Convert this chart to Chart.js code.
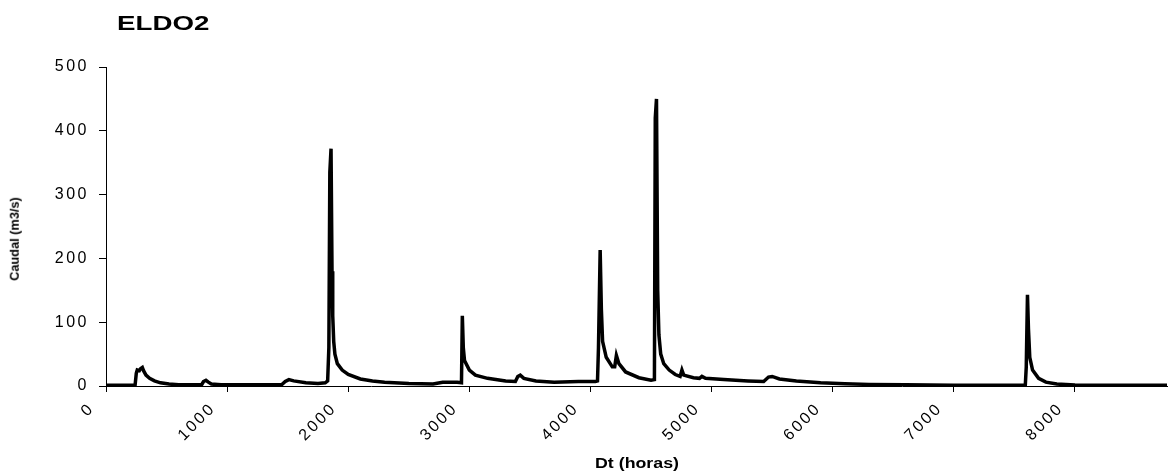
<!DOCTYPE html>
<html>
<head>
<meta charset="utf-8">
<script src="https://cdn.jsdelivr.net/npm/chart.js@4"></script>
<style>
  body { margin: 0; background: #fff; }
  #wrap { position: relative; width: 1171px; height: 473px; }
  #wrap canvas { position: absolute; left: 0; top: 0; }
  .lbl { position: absolute; font-family: "Liberation Sans", Arial, sans-serif; font-weight: bold; color: #000; white-space: nowrap; line-height: 1; }
  #title { left: 117px; top: 14px; font-size: 19.5px; transform: scaleX(1.42); transform-origin: 0 50%; }
  #ytitle { left: 15px; top: 239px; font-size: 12.5px; transform: translate(-50%, -50%) rotate(-90deg) scaleX(1.02); }
  #xtitle { left: 637px; top: 463px; font-size: 14px; transform: translate(-50%, -50%) scaleX(1.27); }
</style>
</head>
<body>
<div id="wrap">
  <canvas id="flowChart" width="1171" height="473"></canvas>
  <div class="lbl" id="title">ELDO2</div>
  <div class="lbl" id="ytitle">Caudal (m3/s)</div>
  <div class="lbl" id="xtitle">Dt (horas)</div>
</div>
<script>
// hydrograph: hour -> discharge (m3/s)
const hours = [0, 240, 250, 258, 275, 285, 300, 310, 330, 360, 400, 450, 520, 600,
  790, 805, 825, 845, 870, 950, 1450, 1480, 1510, 1550, 1650, 1750, 1810, 1830,
  1840, 1848, 1858, 1866, 1872, 1880, 1890, 1910, 1950, 2000, 2100, 2200, 2300,
  2500, 2700, 2780, 2900, 2935, 2942, 2950, 2960, 3000, 3050, 3150, 3300, 3380,
  3400, 3420, 3450, 3550, 3700, 3900, 4040, 4058, 4066, 4080, 4090, 4100, 4130,
  4180, 4200, 4214, 4235, 4290, 4400, 4500, 4528, 4535, 4545, 4555, 4565, 4580,
  4605, 4650, 4700, 4740, 4755, 4770, 4850, 4900, 4920, 4950, 5100, 5300, 5430,
  5470, 5500, 5560, 5700, 5900, 6100, 6300, 6600, 7000, 7590, 7598, 7608, 7616,
  7627, 7650, 7700, 7760, 7850, 8000, 8760];
const flow = [1, 1, 20, 25, 24, 27, 29, 24, 17, 12, 8, 5, 3, 2,
  2, 7, 9, 6, 3, 2, 2, 7, 10, 8, 5, 4, 5, 8,
  60, 335, 372, 180, 110, 70, 50, 35, 25, 18, 11, 8, 6,
  4, 3, 6, 6, 5, 110, 60, 40, 25, 17, 12, 8, 7,
  15, 17, 12, 8, 6, 7, 7, 8, 60, 213, 120, 70, 45,
  30, 30, 48, 35, 22, 13, 9, 10, 420, 450, 150, 80, 50,
  35, 25, 18, 15, 25, 17, 13, 12, 15, 12, 10, 8, 7,
  14, 15, 11, 8, 5, 3.5, 2.5, 1.8, 1.2, 1, 30, 143, 90,
  45, 25, 12, 6, 3, 1.5, 1];

const xTicks = [0, 1000, 2000, 3000, 4000, 5000, 6000, 7000, 8000];
const yTicks = [0, 100, 200, 300, 400, 500];
const xMax = 8760;

const points = hours.map((h, i) => ({ x: h, y: flow[i] }));

// widen the canvas text a bit, like the original rendering
const wideText = {
  id: 'wideText',
  beforeUpdate(chart) { chart.ctx.letterSpacing = '2.5px'; },
  beforeDraw(chart) { chart.ctx.letterSpacing = '2.5px'; }
};

const tickFont = { family: '"Liberation Sans", Arial, sans-serif', size: 16 };

new Chart(document.getElementById('flowChart'), {
  type: 'line',
  data: {
    datasets: [{
      label: 'ELDO2',
      data: points,
      borderColor: '#000',
      borderWidth: 3.5,
      pointRadius: 0,
      tension: 0,
      fill: false
    }]
  },
  options: {
    responsive: false,
    animation: false,
    layout: { padding: { left: 0, right: 4, top: 67, bottom: 0 } },
    plugins: {
      legend: { display: false },
      tooltip: { enabled: false }
    },
    scales: {
      x: {
        type: 'linear',
        min: 0,
        max: xMax,
        afterFit: s => { s.height = 87; },
        afterBuildTicks: s => { s.ticks = xTicks.map(v => ({ value: v })); },
        border: { color: '#000', width: 1 },
        grid: { drawOnChartArea: false, drawTicks: true, tickLength: 6, color: '#000' },
        ticks: {
          minRotation: 45,
          maxRotation: 45,
          autoSkip: false,
          labelOffset: -14,
          padding: 7,
          color: '#000',
          font: tickFont,
          callback: v => String(v)
        }
      },
      y: {
        min: 0,
        max: 500,
        afterFit: s => { s.width = 106; },
        afterBuildTicks: s => { s.ticks = yTicks.map(v => ({ value: v })); },
        border: { color: '#000', width: 1 },
        grid: { drawOnChartArea: false, drawTicks: true, tickLength: 7, color: '#000' },
        ticks: {
          padding: 10,
          color: '#000',
          font: tickFont
        }
      }
    }
  },
  plugins: [wideText]
});
</script>
</body>
</html>
